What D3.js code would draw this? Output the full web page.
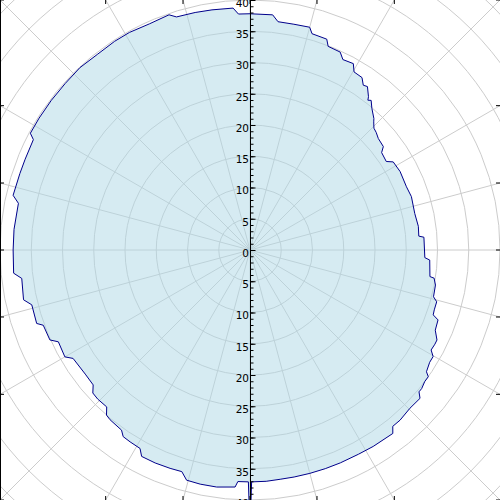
<!DOCTYPE html>
<html>
<head>
<meta charset="utf-8">
<script src="https://cdn.jsdelivr.net/npm/d3@7"></script>
<style>
  html, body { margin: 0; padding: 0; background: #fff; }
  svg { display: block; }
  text { font-family: "DejaVu Sans", sans-serif; }
</style>
</head>
<body>
<svg id="chart" width="500" height="500"></svg>
<script>
// Outline vertices: angle (degrees, clockwise from north) and radius value
const angles = [0, 5.5, 7, 11, 15, 16, 20, 21, 24.5, 26, 29, 30.3, 33, 34.5, 35.7, 37.7, 38.2, 39, 40.7, 43.3, 44, 45.5, 47, 49, 52.2, 53.5, 57, 58.4, 62.4, 68, 71.7, 77.5, 82, 85.3, 85.8, 92.5, 93.2, 98.4, 98.7, 100.7, 104.3, 105.5, 108, 109.5, 110.4, 113.4, 115.7, 117, 118.9, 120.2, 122, 124.6, 125.4, 127, 128.9, 130, 131.1, 134.7, 138.6, 141, 142.1, 147.9, 152, 157, 161, 165, 169, 172.5, 176, 179.6, 180, 180.4, 183, 183.6, 188, 192, 195.4, 197.1, 200.1, 204, 207.7, 209, 212, 214.2, 215.5, 219.5, 221, 222.4, 225.6, 227.7, 229.3, 233, 238.5, 240, 244.4, 245.8, 250, 251, 255.9, 257.6, 262.9, 264.4, 270, 275, 281.4, 283, 288.4, 292, 297, 298, 302, 307, 312, 317, 322, 327, 331, 336, 341, 342.5, 347, 351, 356, 357.2];
const radii = [37.8, 37.8, 36.8, 36.8, 36.9, 36.0, 35.9, 34.9, 34.8, 33.9, 34.1, 33.0, 32.9, 32.0, 32.2, 31.0, 30.5, 30.8, 29.9, 28.9, 28.5, 27.8, 27.6, 27.2, 27.0, 26.2, 26.0, 26.9, 27.1, 27.0, 27.2, 27.0, 27.2, 27.1, 27.9, 28.0, 28.8, 29.1, 29.8, 30.2, 30.3, 31.0, 31.0, 31.1, 32.1, 32.3, 33.2, 33.2, 33.1, 33.9, 33.9, 34.3, 35.0, 35.0, 35.3, 35.3, 36.1, 36.0, 36.3, 36.3, 37.2, 37.1, 37.0, 37.0, 37.0, 37.0, 37.0, 37.0, 37.1, 37.1, 45, 37.1, 37.1, 38.0, 38.3, 38.3, 38.2, 37.1, 37.2, 37.3, 37.3, 36.3, 36.2, 36.1, 35.4, 35.2, 35.0, 34.0, 34.1, 34.0, 33.1, 33.0, 33.2, 34.2, 34.0, 35.1, 35.2, 36.1, 36.0, 37.1, 36.8, 38.0, 37.9, 37.9, 37.8, 38.9, 38.8, 38.8, 38.9, 39.8, 39.8, 39.8, 39.8, 39.9, 39.7, 39.8, 39.8, 39.6, 39.8, 39.1, 39.0, 38.9, 38.8, 37.8];
const radialTicks = [0, 5, 10, 15, 20, 25, 30, 35, 40];
const gridRings = [5, 10, 15, 20, 25, 30, 35, 40, 45, 50, 55, 60];
const gridAngles = d3.range(0, 360, 15);

const W = 500, H = 500, cx = 250, cy = 250;
const svg = d3.select("#chart");
const r = d3.scaleLinear().domain([0, 40]).range([0, 250]);

const g = svg.append("g").attr("transform", `translate(${cx},${cy})`);

// grid rings
g.append("g").selectAll("circle").data(gridRings).join("circle")
  .attr("r", d => r(d)).attr("fill", "none")
  .attr("stroke", "#cccccc").attr("stroke-width", 1);

// radial grid lines
const far = 400;
g.append("g").selectAll("line").data(gridAngles).join("line")
  .attr("x1", 0).attr("y1", 0)
  .attr("x2", d => far * Math.sin(d * Math.PI / 180))
  .attr("y2", d => -far * Math.cos(d * Math.PI / 180))
  .attr("stroke", "#cccccc").attr("stroke-width", 1);

// area
const pts = angles.map((a, i) => ({a, v: radii[i]}));
const area = d3.areaRadial()
  .angle(d => d.a * Math.PI / 180)
  .innerRadius(0)
  .outerRadius(d => r(d.v))
  .curve(d3.curveLinearClosed);
const line = d3.lineRadial()
  .angle(d => d.a * Math.PI / 180)
  .radius(d => r(d.v))
  .curve(d3.curveLinearClosed);
g.append("path").datum(pts).attr("d", area)
  .attr("fill", "#add8e6").attr("fill-opacity", 0.5).attr("stroke", "none");
g.append("path").datum(pts).attr("d", line)
  .attr("fill", "none").attr("stroke", "#00008b").attr("stroke-width", 1);

// radial axis (up and down)
const up = d3.scaleLinear().domain([0, 40]).range([0, -250]);
const down = d3.scaleLinear().domain([0, 40]).range([0, 250]);
function drawAxis(scale) {
  const ax = g.append("g").attr("transform", "translate(0.5,0)");
  ax.call(d3.axisRight(scale).tickValues(d3.range(0, 41, 1)).tickSize(3).tickFormat(""));
  ax.selectAll(".domain").remove();
  ax.selectAll("line").attr("stroke", "#000");
  const ax2 = g.append("g").attr("transform", "translate(0.5,0)");
  ax2.call(d3.axisRight(scale).tickValues(radialTicks).tickSize(5));
  ax2.selectAll(".domain").remove();
  ax2.selectAll("line").attr("stroke", "#000");
  ax2.selectAll("text").attr("x", -1.5).attr("dy", "0.6em").attr("text-anchor", "end")
    .attr("font-size", 10.5).attr("font-family", "DejaVu Sans, sans-serif").attr("fill", "#000");
  return ax2;
}
drawAxis(up);
const dn = drawAxis(down);
dn.selectAll(".tick").filter(d => d === 0).remove();
g.append("line").attr("x1", 0.5).attr("x2", 0.5).attr("y1", -cy).attr("y2", H - cy)
  .attr("stroke", "#000").attr("stroke-width", 1);

// frame ticks where angle grid meets the border
const frame = svg.append("g");
gridAngles.forEach(a => {
  const rad = a * Math.PI / 180;
  const sx = Math.sin(rad), sy = -Math.cos(rad);
  const t = Math.min(Math.abs(sx) > 1e-9 ? 250 / Math.abs(sx) : Infinity,
                     Math.abs(sy) > 1e-9 ? 250 / Math.abs(sy) : Infinity);
  const x = cx + sx * t, y = cy + sy * t;
  const L = 4;
  if (Math.abs(x - 0) < 0.5) frame.append("line").attr("x1", 0).attr("x2", L).attr("y1", y).attr("y2", y);
  else if (Math.abs(x - W) < 0.5) frame.append("line").attr("x1", W - L).attr("x2", W).attr("y1", y).attr("y2", y);
  else if (Math.abs(y - 0) < 0.5) frame.append("line").attr("x1", x).attr("x2", x).attr("y1", 0).attr("y2", L);
  else if (Math.abs(y - H) < 0.5) frame.append("line").attr("x1", x).attr("x2", x).attr("y1", H - L).attr("y2", H);
});
frame.selectAll("line").attr("stroke", "#000").attr("stroke-width", 1);
frame.append("line").attr("x1", 0.5).attr("x2", 0.5).attr("y1", 0).attr("y2", H)
  .attr("stroke", "#000").attr("stroke-width", 1);
</script>
</body>
</html>
